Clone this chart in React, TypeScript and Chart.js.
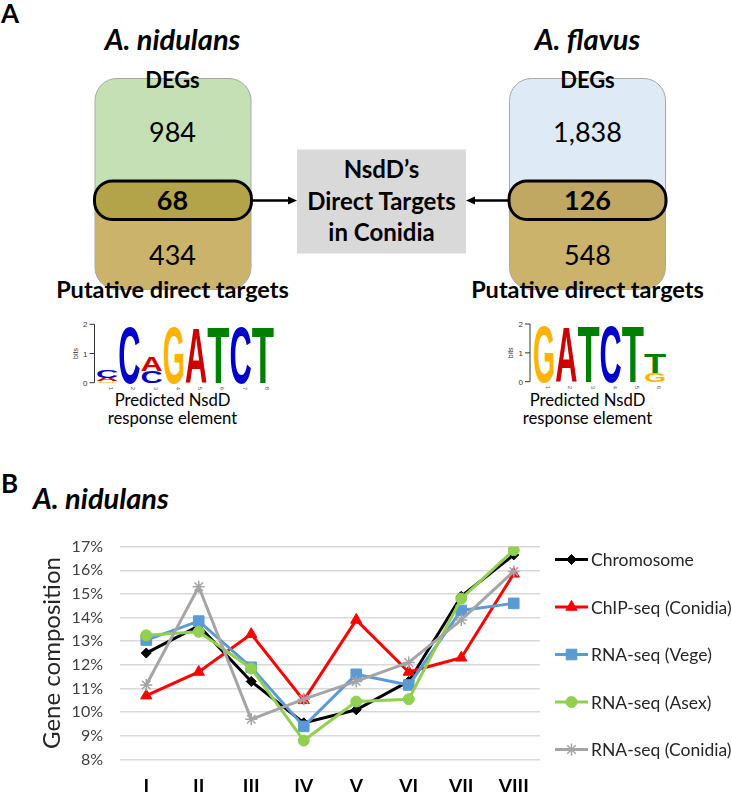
import React, { useEffect, useRef } from "react";
import { Chart, registerables } from "chart.js";
import { drawPoint } from "chart.js/helpers";

Chart.register(...registerables);

// ---- Panel A: DEG counts and motifs ----
const speciesNames = ["A. nidulans", "A. flavus"];
const degCounts = ["984", "1,838"];
const directTargetCounts = ["68", "126"];
const putativeTargetCounts = ["434", "548"];

type Stack = [string, number][];
// each column lists letters from bottom to top with their height in bits
const nidulansMotif: Stack[] = [
  [["G", 0.05], ["A", 0.12], ["C", 0.26]],
  [["C", 1.98]],
  [["C", 0.4], ["A", 0.52]],
  [["G", 1.97]],
  [["A", 1.92]],
  [["T", 1.98]],
  [["C", 1.97]],
  [["T", 1.98]],
];
const flavusMotif: Stack[] = [
  [["G", 1.98]],
  [["A", 1.95]],
  [["T", 1.98]],
  [["C", 1.97]],
  [["T", 1.97]],
  [["G", 0.31], ["T", 0.69]],
];

// ---- Panel B: gene composition per chromosome ----
const chromosomes = ["I", "II", "III", "IV", "V", "VI", "VII", "VIII"];
const chromosomeShare = [12.5, 13.65, 11.3, 9.55, 10.1, 11.3, 14.9, 16.65];
const chipConidia = [10.7, 11.7, 13.3, 10.5, 13.9, 11.7, 12.3, 15.85];
const rnaVege = [13.05, 13.85, 11.9, 9.4, 11.6, 11.15, 14.3, 14.6];
const rnaAsex = [13.25, 13.4, 11.85, 8.8, 10.45, 10.55, 14.8, 16.85];
const rnaConidia = [11.15, 15.3, 9.7, 10.55, 11.3, 12.1, 13.9, 15.95];
const seriesNames = [
  "Chromosome",
  "ChIP-seq (Conidia)",
  "RNA-seq (Vege)",
  "RNA-seq (Asex)",
  "RNA-seq (Conidia)",
];
const yMin = 8;
const yMax = 17;

const FONT = "Lato, 'Open Sans', sans-serif";
const LETTER_COLOURS: Record<string, string> = {
  A: "#cc0000",
  C: "#0000cc",
  G: "#ffb300",
  T: "#008000",
};

function Logo(props: {
  motif: Stack[];
  axisX: number;
  baseY: number;
  bitPx: number;
  colX: number;
  colW: number;
}) {
  const { motif, axisX, baseY, bitPx, colX, colW } = props;
  const parts: React.ReactNode[] = [];
  motif.forEach((stack, i) => {
    let y = baseY;
    const x = colX + i * colW;
    stack.forEach(([ch, bits], j) => {
      const h = bits * bitPx;
      parts.push(
        <g key={`l${i}-${j}`} transform={`translate(${x},${y}) scale(${colW / 100},${h / 72})`}>
          <text
            x={0}
            y={0}
            textLength={100}
            lengthAdjust="spacingAndGlyphs"
            fontFamily="'Liberation Sans', Arial, sans-serif"
            fontWeight="bold"
            fontSize={100}
            fill={LETTER_COLOURS[ch]}
          >
            {ch}
          </text>
        </g>
      );
      y -= h;
    });
    parts.push(
      <text
        key={`n${i}`}
        transform={`translate(${x + colW / 2 + 2},${baseY + 4}) rotate(90)`}
        fontSize={6}
        fill="#555"
        fontFamily="'Liberation Sans', sans-serif"
      >
        {i + 1}
      </text>
    );
  });
  const top = baseY - 2 * bitPx;
  return (
    <g>
      <line x1={axisX} y1={top} x2={axisX} y2={baseY} stroke="#333" strokeWidth={1} />
      {[0, 1, 2].map((b) => (
        <g key={`t${b}`}>
          <line x1={axisX - 5} y1={baseY - b * bitPx} x2={axisX} y2={baseY - b * bitPx} stroke="#333" strokeWidth={1} />
          <text
            x={axisX - 7}
            y={baseY - b * bitPx + 3}
            fontSize={8}
            textAnchor="end"
            fill="#333"
            fontFamily="'Liberation Sans', sans-serif"
          >
            {b}
          </text>
        </g>
      ))}
      <text
        transform={`translate(${axisX - 17},${baseY - bitPx}) rotate(-90)`}
        fontSize={7}
        textAnchor="middle"
        fill="#333"
        fontFamily="'Liberation Sans', sans-serif"
      >
        bits
      </text>
      {parts}
    </g>
  );
}

function SpeciesBlock(props: {
  cx: number;
  left: number;
  topFill: string;
  ovalFill: string;
  idx: number;
  gradId: string;
}) {
  const { cx, left, topFill, ovalFill, idx, gradId } = props;
  const boxTop = 78.5;
  const boxH = 211;
  const split = (200 - boxTop) / boxH;
  return (
    <g>
      <defs>
        <linearGradient id={gradId} x1="0" y1="0" x2="0" y2="1">
          <stop offset={0} stopColor={topFill} />
          <stop offset={split} stopColor={topFill} />
          <stop offset={split} stopColor="#cbb36c" />
          <stop offset={1} stopColor="#cbb36c" />
        </linearGradient>
      </defs>
      <text x={cx} y={50} textAnchor="middle" fontFamily={FONT} fontWeight="bold" fontStyle="italic" fontSize={29} fill="#000">
        {speciesNames[idx]}
      </text>
      <rect x={left} y={boxTop} width={156} height={boxH} rx={22} ry={22} fill={`url(#${gradId})`} stroke="#a8a8a8" strokeWidth={1} />
      <text x={cx} y={88} textAnchor="middle" fontFamily={FONT} fontWeight="bold" fontSize={22} fill="#000">
        DEGs
      </text>
      <text x={cx} y={142} textAnchor="middle" fontFamily={FONT} fontSize={27} fill="#000">
        {degCounts[idx]}
      </text>
      <rect x={left - 0.5} y={181} width={157} height={38.5} rx={18} ry={18} fill={ovalFill} stroke="#000" strokeWidth={3} />
      <text x={cx} y={209.5} textAnchor="middle" fontFamily={FONT} fontWeight="bold" fontSize={27} fill="#000">
        {directTargetCounts[idx]}
      </text>
      <text x={cx} y={265} textAnchor="middle" fontFamily={FONT} fontSize={27} fill="#000">
        {putativeTargetCounts[idx]}
      </text>
      <text x={cx} y={298} textAnchor="middle" fontFamily={FONT} fontWeight="bold" fontSize={23.5} fill="#000">
        Putative direct targets
      </text>
      <text x={cx} y={406} textAnchor="middle" fontFamily={FONT} fontSize={16.7} fill="#000">
        Predicted NsdD
      </text>
      <text x={cx} y={424} textAnchor="middle" fontFamily={FONT} fontSize={16.7} fill="#000">
        response element
      </text>
    </g>
  );
}

function Diagram() {
  return (
    <svg
      width={732}
      height={792}
      style={{ position: "absolute", left: 0, top: 0 }}
      xmlns="http://www.w3.org/2000/svg"
    >
      <text x={1} y={23} fontFamily={FONT} fontWeight="bold" fontSize={26} fill="#000">A</text>
      <SpeciesBlock cx={172.5} left={95} topFill="#c5e0b4" ovalFill="#b3a44a" idx={0} gradId="gNid" />
      <SpeciesBlock cx={587.5} left={509.5} topFill="#deebf7" ovalFill="#c1a862" idx={1} gradId="gFla" />

      <rect x={297} y={149.5} width={169} height={104} fill="#d9d9d9" />
      <text x={381.5} y={178} textAnchor="middle" fontFamily={FONT} fontWeight="bold" fontSize={24} fill="#000">NsdD’s</text>
      <text x={381.5} y={209.5} textAnchor="middle" fontFamily={FONT} fontWeight="bold" fontSize={24} fill="#000">Direct Targets</text>
      <text x={381.5} y={241} textAnchor="middle" fontFamily={FONT} fontWeight="bold" fontSize={24} fill="#000">in Conidia</text>

      <line x1={253} y1={200.5} x2={290} y2={200.5} stroke="#000" strokeWidth={2.5} />
      <polygon points="297,200.5 288,196.5 288,204.5" fill="#000" />
      <line x1={508} y1={200.5} x2={473} y2={200.5} stroke="#000" strokeWidth={2.5} />
      <polygon points="466,200.5 475,196.5 475,204.5" fill="#000" />

      <Logo motif={nidulansMotif} axisX={94.5} baseY={382.7} bitPx={29.2} colX={96} colW={22.25} />
      <Logo motif={flavusMotif} axisX={530} baseY={381.7} bitPx={28.85} colX={533} colW={22.2} />

      <text x={1} y={493} fontFamily={FONT} fontWeight="bold" fontSize={26} fill="#000">B</text>
      <text x={33} y={509} fontFamily={FONT} fontWeight="bold" fontStyle="italic" fontSize={29} fill="#000">A. nidulans</text>
    </svg>
  );
}

const seriesStyles = [
  { color: "#000000", pointStyle: "rectRot", radius: 5, borderWidth: 1 },
  { color: "#ff0000", pointStyle: "triangle", radius: 6.5, borderWidth: 1 },
  { color: "#5b9bd5", pointStyle: "rect", radius: 7.5, borderWidth: 1 },
  { color: "#92d050", pointStyle: "circle", radius: 5.5, borderWidth: 1 },
  { color: "#a5a5a5", pointStyle: "star", radius: 6, borderWidth: 1.5 },
];

// Legend to the right of the plot: a short line with the series marker, then its name
const sideLegend = {
  id: "sideLegend",
  afterDraw(chart: any) {
    const ctx = chart.ctx as CanvasRenderingContext2D;
    const x0 = 555;
    const x1 = 588;
    chart.data.datasets.forEach((ds: any, i: number) => {
      const y = 39.5 + i * 47.5;
      const st = seriesStyles[i];
      ctx.save();
      ctx.strokeStyle = st.color;
      ctx.lineWidth = 3;
      ctx.beginPath();
      ctx.moveTo(x0, y);
      ctx.lineTo(x1, y);
      ctx.stroke();
      ctx.fillStyle = st.color;
      ctx.strokeStyle = st.color;
      ctx.lineWidth = st.borderWidth;
      drawPoint(ctx, { pointStyle: st.pointStyle as any, rotation: 0, radius: st.radius, borderWidth: st.borderWidth }, (x0 + x1) / 2, y);
      ctx.fillStyle = "#262626";
      ctx.font = `17.5px ${FONT}`;
      ctx.textBaseline = "middle";
      ctx.textAlign = "left";
      ctx.fillText(ds.label, x1 + 3, y + 1);
      ctx.restore();
    });
  },
};

function CompositionChart() {
  const ref = useRef<HTMLCanvasElement | null>(null);
  useEffect(() => {
    if (!ref.current) return;
    const values = [chromosomeShare, chipConidia, rnaVege, rnaAsex, rnaConidia];
    const chart = new Chart(ref.current, {
      type: "line",
      data: {
        labels: chromosomes,
        datasets: values.map((v, i) => ({
          label: seriesNames[i],
          data: v,
          borderColor: seriesStyles[i].color,
          backgroundColor: seriesStyles[i].color,
          pointBackgroundColor: seriesStyles[i].color,
          pointBorderColor: seriesStyles[i].color,
          pointStyle: seriesStyles[i].pointStyle as any,
          pointRadius: seriesStyles[i].radius,
          pointBorderWidth: seriesStyles[i].borderWidth,
          borderWidth: 3,
          tension: 0,
          fill: false,
          order: values.length - 1 - i,
        })),
      },
      options: {
        responsive: false,
        animation: false,
        devicePixelRatio: 1,
        layout: { padding: { top: 21.5, right: 192, bottom: 0, left: 0 } },
        plugins: { legend: { display: false }, tooltip: { enabled: false } },
        font: { family: FONT },
        scales: {
          x: {
            offset: true,
            grid: { display: false },
            border: { display: false },
            ticks: {
              color: "#000",
              font: { family: FONT, size: 19, weight: "bold" },
              padding: 8,
            },
            afterFit: (s: any) => {
              s.height = 32.5;
            },
          },
          y: {
            min: yMin,
            max: yMax,
            ticks: {
              stepSize: 1,
              callback: (v: any) => `${v}%`,
              color: "#404040",
              font: { family: FONT, size: 16 },
              padding: 17,
            },
            grid: { color: "#d9d9d9", lineWidth: 1.5, drawTicks: false },
            border: { display: false },
            title: {
              display: true,
              text: "Gene composition",
              color: "#262626",
              font: { family: FONT, size: 24 },
              padding: { top: 38, bottom: 0 },
            },
            afterFit: (s: any) => {
              s.width = 120;
            },
          },
        },
      } as any,
      plugins: [sideLegend],
    });
    return () => chart.destroy();
  }, []);
  return (
    <canvas
      ref={ref}
      width={732}
      height={272}
      style={{ position: "absolute", left: 0, top: 520, width: 732, height: 272 }}
    />
  );
}

export default function App() {
  return (
    <div style={{ position: "absolute", left: 0, top: 0, width: 732, height: 792, background: "#fff" }}>
      <Diagram />
      <CompositionChart />
    </div>
  );
}
